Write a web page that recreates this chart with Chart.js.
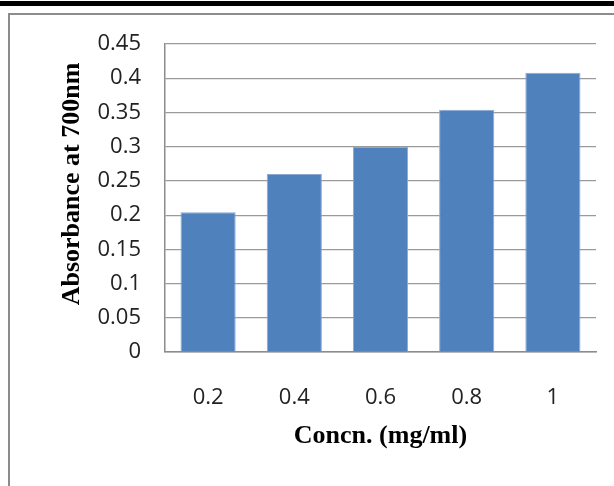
<!DOCTYPE html>
<html>
<head>
<meta charset="utf-8">
<script src="https://cdn.jsdelivr.net/npm/chart.js@4/dist/chart.umd.min.js"></script>
<style>
  html, body { margin: 0; padding: 0; background: #fff; }
  body { width: 614px; height: 486px; position: relative; overflow: hidden; }
  .rule { position: absolute; left: 0; top: 1px; width: 614px; height: 5px; background: #000; }
  .frame { position: absolute; left: 8px; top: 13px; width: 620px; height: 480px;
           border-left: 2px solid #8c8c8c; border-top: 2px solid #8c8c8c; }
  #wrap { position: absolute; left: 0; top: 0; width: 614px; height: 486px; }
</style>
</head>
<body>
<div class="rule"></div>
<div class="frame"></div>
<div id="wrap"><canvas id="chart"></canvas></div>
<script>
// Data
const concentrations = ['0.2', '0.4', '0.6', '0.8', '1'];
const absorbance = [0.204, 0.26, 0.30, 0.354, 0.408];
const yTicks = [0, 0.05, 0.1, 0.15, 0.2, 0.25, 0.3, 0.35, 0.4, 0.45];

const xTitle = 'Concn. (mg/ml)';
const yTitle = 'Absorbance at 700nm';

// Axis titles drawn in the Excel-like spots
const axisTitles = {
    id: 'axisTitles',
    afterDraw(chart) {
        const { ctx, chartArea } = chart;
        ctx.save();
        ctx.fillStyle = '#000';
        ctx.font = 'bold 26px "Liberation Serif", "Times New Roman", serif';
        ctx.textAlign = 'center';
        ctx.textBaseline = 'middle';
        ctx.fillText(xTitle, (chartArea.left + chartArea.right) / 2, chartArea.bottom + 84);
        ctx.translate(chartArea.left - 93, (chartArea.top + chartArea.bottom) / 2 - 14);
        ctx.rotate(-Math.PI / 2);
        ctx.fillText(yTitle, 0, 0);
        ctx.restore();
    }
};

const tickFont = { family: '"Open Sans", sans-serif', size: 22 };

new Chart(document.getElementById('chart'), {
    type: 'bar',
    data: {
        labels: concentrations,
        datasets: [{
            data: absorbance,
            backgroundColor: '#4F81BD',
            borderColor: '#8AAAD3',
            borderWidth: 1,
            barPercentage: 0.64,
            categoryPercentage: 1
        }]
    },
    options: {
        responsive: true,
        maintainAspectRatio: false,
        animation: false,
        layout: { padding: { top: 44, right: 18, bottom: 0, left: 0 } },
        plugins: { legend: { display: false }, tooltip: { enabled: false } },
        scales: {
            x: {
                grid: { display: false },
                border: { display: true, color: '#8c8c8c', width: 1.5 },
                ticks: { color: '#222', font: tickFont, padding: 25 },
                afterFit: (scale) => { scale.height = 134; }
            },
            y: {
                min: 0,
                max: 0.45,
                afterBuildTicks: (scale) => { scale.ticks = yTicks.map(v => ({ value: v })); },
                grid: { color: '#9a9a9a', lineWidth: 1.2, drawTicks: false },
                border: { display: true, color: '#8c8c8c', width: 1.5 },
                ticks: {
                    color: '#222',
                    font: tickFont,
                    padding: 24,
                    callback: (v) => String(+Number(v).toFixed(2))
                },
                afterFit: (scale) => { scale.width = 165; }
            }
        }
    },
    plugins: [axisTitles]
});
</script>
</body>
</html>
